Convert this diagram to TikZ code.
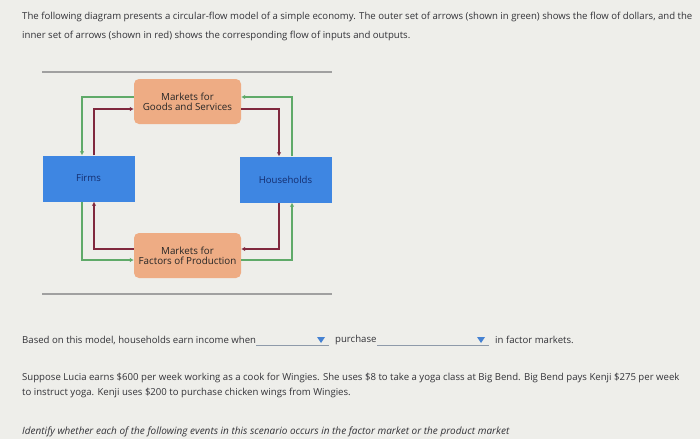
\documentclass[tikz,border=0pt]{standalone}
\usepackage{fontspec}
\setmainfont{Open Sans}
\usetikzlibrary{arrows.meta}
\definecolor{fondo}{RGB}{238,238,234}
\definecolor{texto}{RGB}{50,50,55}
\definecolor{mercado}{RGB}{238,172,132}
\definecolor{azul}{RGB}{62,134,226}
\definecolor{textoazul}{RGB}{20,45,110}
\definecolor{verde}{RGB}{95,170,105}
\definecolor{rojo}{RGB}{128,40,62}
\definecolor{gris}{RGB}{160,160,160}
\definecolor{menu}{RGB}{70,130,210}
\begin{document}
\begin{tikzpicture}[x=1pt, y=-1pt,
    txt/.style={anchor=west, inner sep=0pt, text=texto, font=\fontsize{9.6}{11}\selectfont},
    caja/.style={fill=mercado, rounded corners=5pt, minimum width=107pt, minimum height=45pt,
      align=center, inner sep=0pt, text=black!85, font=\fontsize{9.8}{10.4}\selectfont},
    agente/.style={fill=azul, minimum width=92pt, minimum height=46pt, inner sep=0pt,
      text=textoazul, font=\fontsize{9.6}{10.4}\selectfont},
    dolar/.style={draw=verde, line width=1.4pt, -{Latex[length=4pt,width=4.5pt]}},
    bien/.style={draw=rojo, line width=1.4pt, -{Latex[length=4pt,width=4.5pt]}}]
    % Fondo y recorte
    \clip (0,0) rectangle (700,439);
    \fill[fondo] (0,0) rectangle (700,439);

    % Enunciado
    \node[txt] (l1) at (22,17) {The following diagram presents a circular-flow model of a simple economy. The outer set of arrows (shown in green) shows the flow of dollars, and the};
    \node[txt] (l2) at (22,36) {inner set of arrows (shown in red) shows the corresponding flow of inputs and outputs.};

    % Lineas del panel
    \draw[gris, line width=2pt] (42,72) -- (332,72);
    \draw[gris, line width=2pt] (42,294) -- (332,294);

    % Cajas
    \node[caja] (goods) at (187.5,101.5) {Markets for\\Goods and Services};
    \node[caja] (factors) at (187.5,255.5) {Markets for\\Factors of Production};
    \node[agente] (firms) at (88.5,178.5) {Firms};
    \node[agente] (hh) at (285.5,179.5) {Households};

    % Flujo de dolares (exterior)
    \draw[dolar] ([yshift=4.5pt]goods.west) -| ([xshift=-6.5pt]firms.north);
    \draw[dolar] ([xshift=6.5pt]hh.north) |- ([yshift=4.5pt]goods.east);
    \draw[dolar] ([xshift=-6.5pt]firms.south) |- ([yshift=-4.5pt]factors.west);
    \draw[dolar] ([yshift=-4.5pt]factors.east) -| ([xshift=6.5pt]hh.south);

    % Flujo de bienes e insumos (interior)
    \draw[bien] ([xshift=5.5pt]firms.north) |- ([yshift=-7.5pt]goods.west);
    \draw[bien] ([yshift=-7.5pt]goods.east) -| ([xshift=-6.5pt]hh.north);
    \draw[bien] ([xshift=-6.5pt]hh.south) |- ([yshift=6.5pt]factors.east);
    \draw[bien] ([yshift=6.5pt]factors.west) -| ([xshift=5.5pt]firms.south);

    % Pregunta con menus
    \node[txt] (q1) at (22,340) {Based on this model, households earn income when};
    \coordinate (m1a) at (256,345);
    \coordinate (m1b) at (329,345);
    \draw[gris!80!menu, line width=0.6pt] (m1a) -- (m1b);
    \fill[menu] (317,337) -- (325,337) -- (321,343) -- cycle;
    \node[txt] (q2) at (335,340) {purchase};
    \coordinate (m2a) at (377,345);
    \coordinate (m2b) at (489,345);
    \draw[gris!80!menu, line width=0.6pt] (m2a) -- (m2b);
    \fill[menu] (477,337) -- (485,337) -- (481,343) -- cycle;
    \node[txt] (q3) at (495,340) {in factor markets.};

    % Escenario
    \node[txt] (s1) at (22,378) {Suppose Lucia earns \$600 per week working as a cook for Wingies. She uses \$8 to take a yoga class at Big Bend. Big Bend pays Kenji \$275 per week};
    \node[txt] (s2) at (22,393) {to instruct yoga. Kenji uses \$200 to purchase chicken wings from Wingies.};
    \node[txt, font=\fontsize{10}{11}\itshape] (s3) at (22,432) {Identify whether each of the following events in this scenario occurs in the factor market or the product market};
\end{tikzpicture}
\end{document}
